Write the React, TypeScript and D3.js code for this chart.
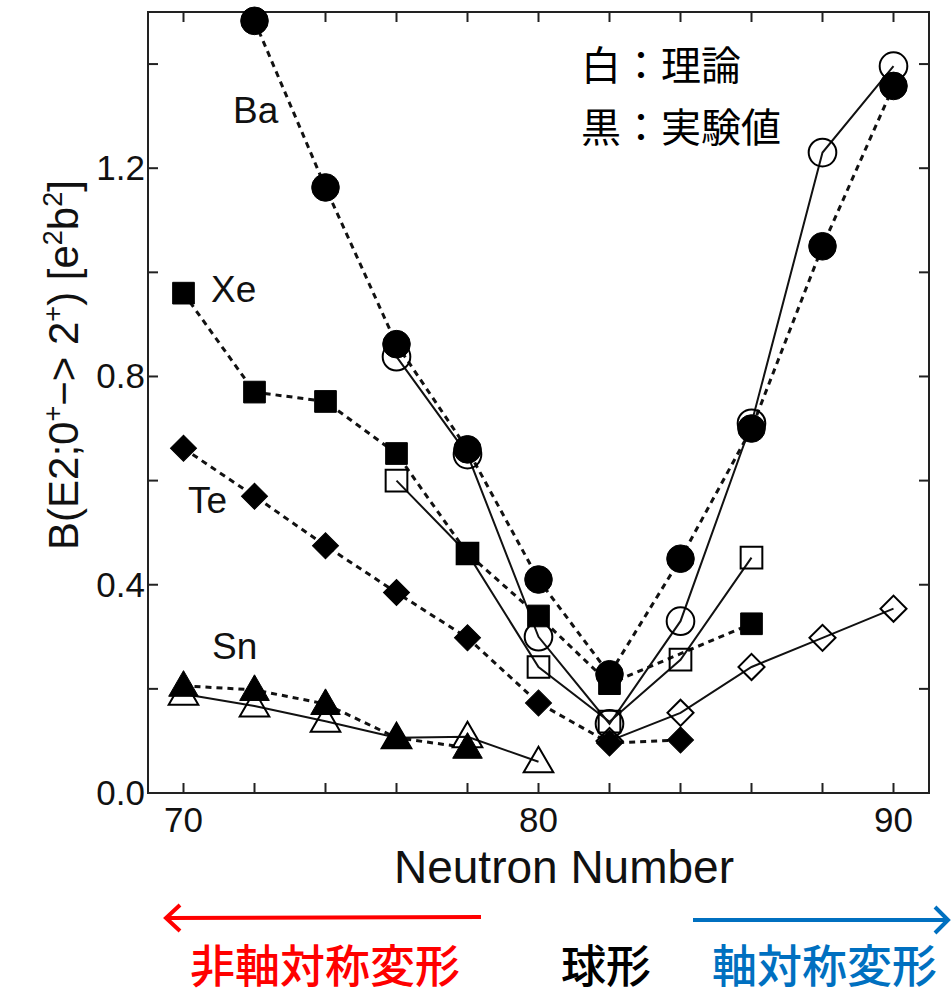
import React from "react"
import * as d3 from "d3"

// neutron numbers and B(E2) values
const baExpN = [72, 74, 76, 78, 80, 82, 84, 86, 88, 90]
const baExp = [1.483, 1.163, 0.862, 0.66, 0.41, 0.228, 0.45, 0.7, 1.05, 1.358]
const baThN = [76, 78, 80, 82, 84, 86, 88, 90]
const baTh = [0.838, 0.65, 0.3, 0.133, 0.33, 0.71, 1.23, 1.396]

const xeExpN = [70, 72, 74, 76, 78, 80, 82, 86]
const xeExp = [0.96, 0.77, 0.752, 0.652, 0.46, 0.34, 0.21, 0.325]
const xeThN = [76, 78, 80, 82, 84, 86]
const xeTh = [0.6, 0.46, 0.242, 0.137, 0.256, 0.452]

const teExpN = [70, 72, 74, 76, 78, 80, 82, 84]
const teExp = [0.662, 0.57, 0.475, 0.385, 0.298, 0.173, 0.096, 0.102]
const teThN = [82, 84, 86, 88, 90]
const teTh = [0.1, 0.154, 0.242, 0.298, 0.354]

const snExpN = [70, 72, 74, 76, 78]
const snExp = [0.206, 0.198, 0.171, 0.106, 0.087]
const snThN = [70, 72, 74, 76, 78, 80]
const snTh = [0.19, 0.167, 0.138, 0.106, 0.108, 0.06]

const xTicks = [70, 72, 74, 76, 78, 80, 82, 84, 86, 88, 90]
const xLabels = [70, 80, 90]
const yTicks = [0, 0.2, 0.4, 0.6, 0.8, 1.0, 1.2, 1.4]
const yLabels = [0, 0.4, 0.8, 1.2]

const left = 148, right = 929, top = 12, bottom = 793
const x = d3.scaleLinear().domain([69, 91]).range([left, right])
const y = d3.scaleLinear().domain([0, 1.5]).range([bottom, top])

const latin = "'Liberation Sans', Arial, sans-serif"
const cjk = "'Noto Sans CJK JP', sans-serif"

type Shape = "circle" | "square" | "diamond" | "triangle"

const symbols: Record<Shape, d3.SymbolType> = {
  circle: d3.symbolCircle,
  square: d3.symbolSquare,
  diamond: d3.symbolSquare,
  triangle: d3.symbolTriangle,
}
const sizes: Record<Shape, number> = {
  circle: 600,
  square: 470,
  diamond: 340,
  triangle: 380,
}

const line = d3
  .line<[number, number]>()
  .x(d => x(d[0]))
  .y(d => y(d[1]))

const Series = ({ ns, vs, filled }: { ns: number[]; vs: number[]; shape: Shape; filled: boolean }) => {
  const pts = ns.map((n, i) => [n, vs[i]] as [number, number])
  return (
    <path
      d={line(pts) || ""}
      fill="none"
      stroke="#111"
      strokeWidth={filled ? 3 : 2}
      strokeDasharray={filled ? "6,5" : undefined}
    />
  )
}

const Marks = ({ ns, vs, shape, filled }: { ns: number[]; vs: number[]; shape: Shape; filled: boolean }) => {
  const sym = d3.symbol().type(symbols[shape]).size(sizes[shape])
  return (
    <g>
      {ns.map((n, i) => (
        <path
          key={i}
          d={sym() || ""}
          transform={`translate(${x(n)},${y(vs[i]) + (shape === "triangle" ? 2 : 0)})${shape === "diamond" ? " rotate(45)" : ""}`}
          fill={filled ? "#000" : "none"}
          stroke="#000"
          strokeWidth={filled ? 1 : 2}
        />
      ))}
    </g>
  )
}

const series = [
  { ns: baExpN, vs: baExp, shape: "circle" as Shape, filled: true },
  { ns: xeExpN, vs: xeExp, shape: "square" as Shape, filled: true },
  { ns: teExpN, vs: teExp, shape: "diamond" as Shape, filled: true },
  { ns: snExpN, vs: snExp, shape: "triangle" as Shape, filled: true },
  { ns: baThN, vs: baTh, shape: "circle" as Shape, filled: false },
  { ns: xeThN, vs: xeTh, shape: "square" as Shape, filled: false },
  { ns: teThN, vs: teTh, shape: "diamond" as Shape, filled: false },
  { ns: snThN, vs: snTh, shape: "triangle" as Shape, filled: false },
]

export default function App() {
  return (
    <svg
      width={951}
      height={996}
      style={{ position: "absolute", left: 0, top: 0, background: "#fff" }}
    >
      <rect width={951} height={996} fill="#fff" />

      {/* frame and ticks */}
      <rect x={left} y={top} width={right - left} height={bottom - top} fill="none" stroke="#222" strokeWidth={2} />
      {xTicks.map(t => (
        <g key={"x" + t} stroke="#222" strokeWidth={2}>
          <line x1={x(t)} x2={x(t)} y1={bottom} y2={bottom - 10} />
          <line x1={x(t)} x2={x(t)} y1={top} y2={top + 10} />
        </g>
      ))}
      {yTicks.map(t => (
        <g key={"y" + t} stroke="#222" strokeWidth={2}>
          <line x1={left} x2={left + 10} y1={y(t)} y2={y(t)} />
          <line x1={right} x2={right - 10} y1={y(t)} y2={y(t)} />
        </g>
      ))}
      {xLabels.map(t => (
        <text key={"xl" + t} x={x(t)} y={bottom + 39} textAnchor="middle" fontFamily={latin} fontSize={35} fill="#111">
          {t}
        </text>
      ))}
      {yLabels.map(t => (
        <text key={"yl" + t} x={left - 3} y={y(t) + 12} textAnchor="end" fontFamily={latin} fontSize={35} fill="#111">
          {t.toFixed(1)}
        </text>
      ))}

      {/* axis titles */}
      <text x={564} y={883} textAnchor="middle" fontFamily={latin} fontSize={46} fill="#111">
        Neutron Number
      </text>
      <text
        transform="translate(78,365) rotate(-90)"
        textAnchor="middle"
        fontFamily={latin}
        fontSize={42}
        fill="#111"
      >
        B(E2;0<tspan dy={-16} fontSize={27}>+</tspan>
        <tspan dy={16}>−&gt; 2</tspan>
        <tspan dy={-16} fontSize={27}>+</tspan>
        <tspan dy={16}>) [e</tspan>
        <tspan dy={-16} fontSize={27}>2</tspan>
        <tspan dy={16}>b</tspan>
        <tspan dy={-16} fontSize={27}>2</tspan>
        <tspan dy={16}>]</tspan>
      </text>

      {/* lines then markers */}
      {series.map((s, i) => (
        <Series key={"l" + i} {...s} />
      ))}
      {series.map((s, i) => (
        <Marks key={"m" + i} {...s} />
      ))}

      {/* element labels */}
      <g fontFamily={latin} fontSize={37} fill="#111">
        <text x={233} y={123}>Ba</text>
        <text x={211} y={302}>Xe</text>
        <text x={188} y={513}>Te</text>
        <text x={212} y={659}>Sn</text>
      </g>

      {/* legend */}
      <g fontFamily={cjk} fontSize={40} fill="#000">
        <text x={581} y={80}>白：理論</text>
        <text x={581} y={142}>黒：実験値</text>
      </g>

      {/* arrows */}
      <g fill="none" strokeWidth={4}>
        <line x1={481} y1={917} x2={168} y2={918} stroke="#ff0000" />
        <polyline points="180,905 166,918 180,931" stroke="#ff0000" />
        <line x1={693} y1={920} x2={946} y2={920} stroke="#0070c0" />
        <polyline points="935,907 948,920 935,933" stroke="#0070c0" />
      </g>
      <g fontFamily={cjk} fontSize={45} fontWeight={500}>
        <text x={190} y={983} fill="#ff0000">非軸対称変形</text>
        <text x={561} y={983} fill="#000">球形</text>
        <text x={712} y={983} fill="#0070c0">軸対称変形</text>
      </g>
    </svg>
  )
}
